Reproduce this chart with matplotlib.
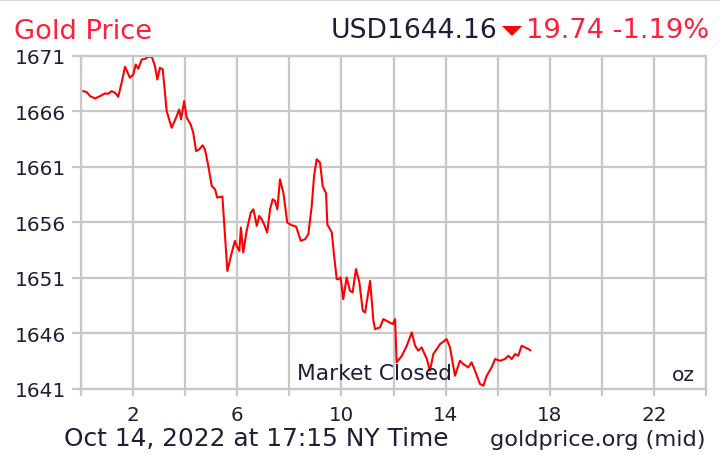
import matplotlib.pyplot as plt
from matplotlib.patches import Polygon
from matplotlib.lines import Line2D

# intraday gold price, Oct 14 2022 (hours NY time, USD/oz)
hours = [0.09, 0.22, 0.35, 0.54, 0.73, 0.92, 1.04, 1.18, 1.31, 1.43,
         1.56, 1.69, 1.88, 2.01, 2.10, 2.20, 2.33, 2.46, 2.58, 2.72,
         2.84, 2.93, 3.03, 3.14, 3.29, 3.48, 3.65, 3.77, 3.84, 3.96,
         4.06, 4.21, 4.31, 4.42, 4.54, 4.67, 4.76, 4.89, 5.02, 5.15,
         5.23, 5.43, 5.62, 5.79, 5.91, 5.98, 6.08, 6.14, 6.23, 6.36,
         6.52, 6.62, 6.75, 6.84, 6.94, 7.03, 7.15, 7.26, 7.36, 7.45,
         7.54, 7.64, 7.77, 7.92, 8.09, 8.26, 8.44, 8.60, 8.73, 8.86,
         8.95, 9.05, 9.18, 9.28, 9.41, 9.46, 9.63, 9.72, 9.82, 9.88,
         9.97, 10.07, 10.20, 10.33, 10.43, 10.56, 10.69, 10.82, 10.91, 11.10,
         11.23, 11.29, 11.48, 11.61, 11.80, 11.97, 12.06, 12.12, 12.32, 12.51,
         12.70, 12.83, 12.95, 13.08, 13.28, 13.40, 13.53, 13.66, 13.79, 14.04,
         14.17, 14.36, 14.55, 14.68, 14.87, 15.00, 15.13, 15.32, 15.45, 15.58,
         15.77, 15.90, 16.09, 16.28, 16.41, 16.54, 16.67, 16.79, 16.92, 17.05,
         17.18, 17.25]
prices = [1667.83, 1667.74, 1667.38, 1667.17, 1667.38, 1667.62, 1667.59, 1667.83, 1667.68, 1667.32,
          1668.59, 1670.03, 1669.04, 1669.33, 1670.23, 1669.85, 1670.68, 1670.75, 1670.93, 1670.93,
          1670.08, 1668.88, 1669.94, 1669.78, 1666.03, 1664.53, 1665.43, 1666.18, 1665.28, 1666.93,
          1665.43, 1664.83, 1664.08, 1662.42, 1662.58, 1662.94, 1662.58, 1661.07, 1659.27, 1658.97,
          1658.23, 1658.32, 1651.61, 1653.27, 1654.32, 1653.86, 1653.41, 1655.52, 1653.27, 1655.22,
          1656.87, 1657.17, 1655.67, 1656.57, 1656.27, 1655.82, 1655.07, 1657.17, 1658.07, 1657.92,
          1657.17, 1659.87, 1658.68, 1655.97, 1655.73, 1655.61, 1654.32, 1654.47, 1654.92, 1657.47,
          1660.17, 1661.68, 1661.38, 1659.27, 1658.60, 1655.80, 1655.07, 1652.96, 1650.86, 1650.86,
          1651.02, 1649.06, 1651.02, 1649.81, 1649.67, 1651.77, 1650.57, 1648.01, 1647.86, 1650.71,
          1647.11, 1646.36, 1646.51, 1647.26, 1647.02, 1646.81, 1647.26, 1643.36, 1643.95, 1644.86,
          1646.06, 1644.86, 1644.41, 1644.71, 1643.66, 1642.60, 1644.11, 1644.56, 1645.01, 1645.46,
          1644.71, 1642.15, 1643.50, 1643.21, 1642.91, 1643.36, 1642.60, 1641.41, 1641.25, 1642.15,
          1642.91, 1643.66, 1643.50, 1643.66, 1643.95, 1643.66, 1644.11, 1643.95, 1644.86, 1644.71,
          1644.56, 1644.45]

x_ticks = list(range(0, 25, 2))
x_labels = [str(h) if h % 4 == 2 else '' for h in x_ticks]
y_ticks = [1641, 1646, 1651, 1656, 1661, 1666, 1671]

plt.rcParams['font.family'] = ['DejaVu Sans']
red = '#ff1f3a'
dark = '#1e1e36'
grid = '#c8c8c8'

fig = plt.figure(figsize=(7.2, 4.56), dpi=100)
ax = fig.add_axes([81 / 720, 1 - 389.5 / 456, 625 / 720, 332.5 / 456])

ax.plot(hours, prices, color='#ff0000', lw=1.5)

ax.set_xlim(0, 24)
ax.set_ylim(1641, 1671)
ax.set_xticks(x_ticks)
ax.set_xticklabels(x_labels)
ax.set_yticks(y_ticks)
ax.grid(True, color=grid, lw=1.6)
ax.tick_params(axis='x', colors=grid, labelcolor=dark, labelsize=14.3, length=5, width=1.6, pad=7)
ax.tick_params(axis='y', colors=grid, labelcolor=dark, labelsize=14.5, length=6.5, width=1.6, pad=4)
for s in ax.spines.values():
    s.set_color(grid)
    s.set_linewidth(1.6)

closed = ax.text((297 - 81) / 625, (389.5 - 380) / 332.5, 'Market Closed', transform=ax.transAxes,
                 ha='left', va='baseline', fontsize=15.7, color=dark)
ax.text((695 - 81) / 625, (389.5 - 381) / 332.5, 'oz', transform=ax.transAxes,
        ha='right', va='baseline', fontsize=14.5, color=dark)

# header
fig.text(14 / 720, 1 - 39 / 456, 'Gold Price', ha='left', va='baseline', fontsize=19.6, color=red)
fig.text(497 / 720, 1 - 38.5 / 456, 'USD1644.16', ha='right', va='baseline', fontsize=19.2, color=dark)
fig.add_artist(Polygon([(502 / 720, 1 - 27 / 456), (522 / 720, 1 - 27 / 456), (512 / 720, 1 - 37 / 456)],
                       closed=True, transform=fig.transFigure, color='#ff0000', lw=0))
fig.text(526 / 720, 1 - 38.5 / 456, '19.74 -1.19%', ha='left', va='baseline', fontsize=19.6, color=red)

# footer
fig.text(64 / 720, 1 - 446 / 456, 'Oct 14, 2022 at 17:15 NY Time', ha='left', va='baseline',
         fontsize=17.9, color=dark)
fig.text(706 / 720, 1 - 446 / 456, 'goldprice.org (mid)', ha='right', va='baseline',
         fontsize=16.2, color=dark)

fig.add_artist(Line2D([0, 1], [1 - 1 / 456, 1 - 1 / 456], transform=fig.transFigure, color='#d8d8d8', lw=1.5))

# "Market Closed" spans about 155 px in the reference, fit it to that
fig.canvas.draw()
w = closed.get_window_extent().width
closed.set_fontsize(15.7 * 155 / w)

fig.savefig('out.png', dpi=100)
